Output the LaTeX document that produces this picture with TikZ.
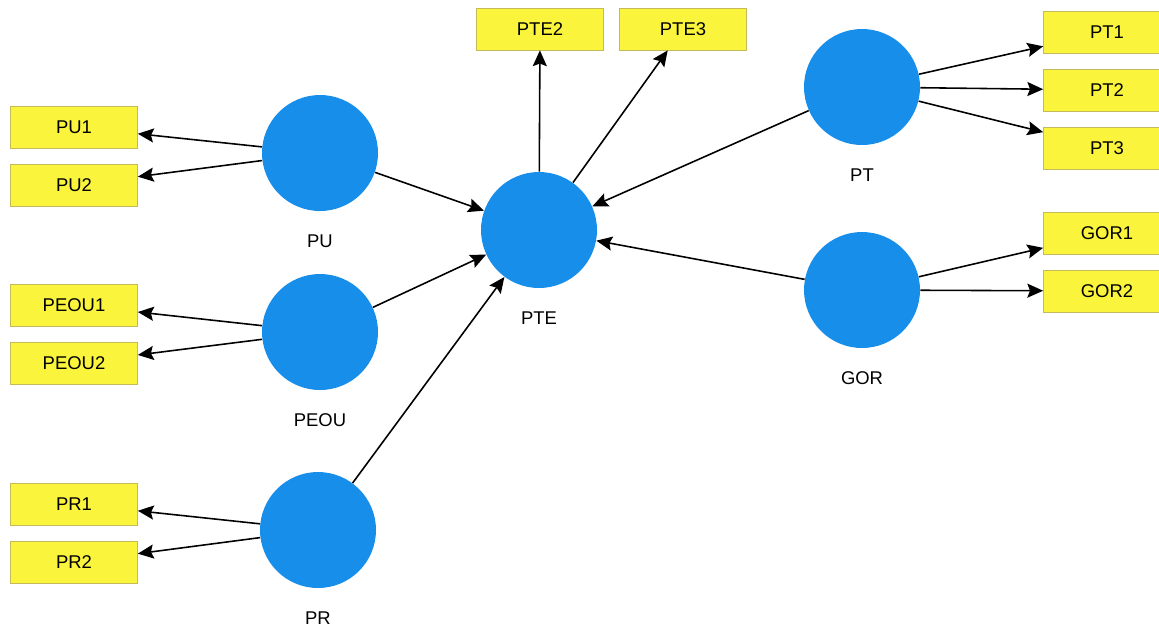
\documentclass[tikz,border=0pt]{standalone}
\usepackage{fontspec}
\setmainfont{Liberation Sans}
\usetikzlibrary{arrows.meta}
\definecolor{lvblue}{RGB}{22,142,234}
\definecolor{indyellow}{RGB}{250,244,60}
\definecolor{indborder}{RGB}{196,186,90}

\begin{document}
\begin{tikzpicture}[x=0.02cm,y=-0.02cm,
  latent/.style={circle,fill=lvblue,minimum size=2.32cm,inner sep=0pt,label distance=0.42cm},
  ind/.style={draw=indborder,fill=indyellow,minimum width=2.54cm,minimum height=0.84cm,inner sep=0pt},
  every node/.style={font=\fontsize{10.5}{12}\selectfont},
  every label/.style={font=\fontsize{10.5}{12}\selectfont,yshift=-0.35cm},
  path/.style={-{Stealth[length=9pt,width=8pt,inset=1.5pt]},line width=0.9pt}]
\useasboundingbox (0,0) rectangle (1159,627);
% latent variables
\node[latent,label={below:PU}] (PU) at (320,153) {};
\node[latent,label={below:PEOU}] (PEOU) at (320,332) {};
\node[latent,label={below:PR}] (PR) at (318,530) {};
\node[latent,label={below:PTE}] (PTE) at (539,230) {};
\node[latent,label={below:PT}] (PT) at (862,87) {};
\node[latent,label={below:GOR}] (GOR) at (862,290) {};
% indicators
\node[ind] (PU1) at (74,127) {PU1};
\node[ind] (PU2) at (74,185) {PU2};
\node[ind] (PEOU1) at (74,305) {PEOU1};
\node[ind] (PEOU2) at (74,363) {PEOU2};
\node[ind] (PR1) at (74,504) {PR1};
\node[ind] (PR2) at (74,562) {PR2};
\node[ind] (PTE2) at (540,29) {PTE2};
\node[ind] (PTE3) at (683,29) {PTE3};
\node[ind] (PT1) at (1107,32) {PT1};
\node[ind] (PT2) at (1107,90) {PT2};
\node[ind] (PT3) at (1107,148) {PT3};
\node[ind] (GOR1) at (1107,233) {GOR1};
\node[ind] (GOR2) at (1107,291) {GOR2};
% outer model
\draw[path] (PU) -- (PU1);
\draw[path] (PU) -- (PU2);
\draw[path] (PEOU) -- (PEOU1);
\draw[path] (PEOU) -- (PEOU2);
\draw[path] (PR) -- (PR1);
\draw[path] (PR) -- (PR2);
\draw[path] (PTE) -- (PTE2);
\draw[path] (PTE) -- (PTE3);
\draw[path] (PT) -- (PT1);
\draw[path] (PT) -- (PT2);
\draw[path] (PT) -- (PT3);
\draw[path] (GOR) -- (GOR1);
\draw[path] (GOR) -- (GOR2);
% inner model
\draw[path] (PU) -- (PTE);
\draw[path] (PEOU) -- (PTE);
\draw[path] (PR) -- (PTE);
\draw[path] (PT) -- (PTE);
\draw[path] (GOR) -- (PTE);
\end{tikzpicture}
\end{document}
